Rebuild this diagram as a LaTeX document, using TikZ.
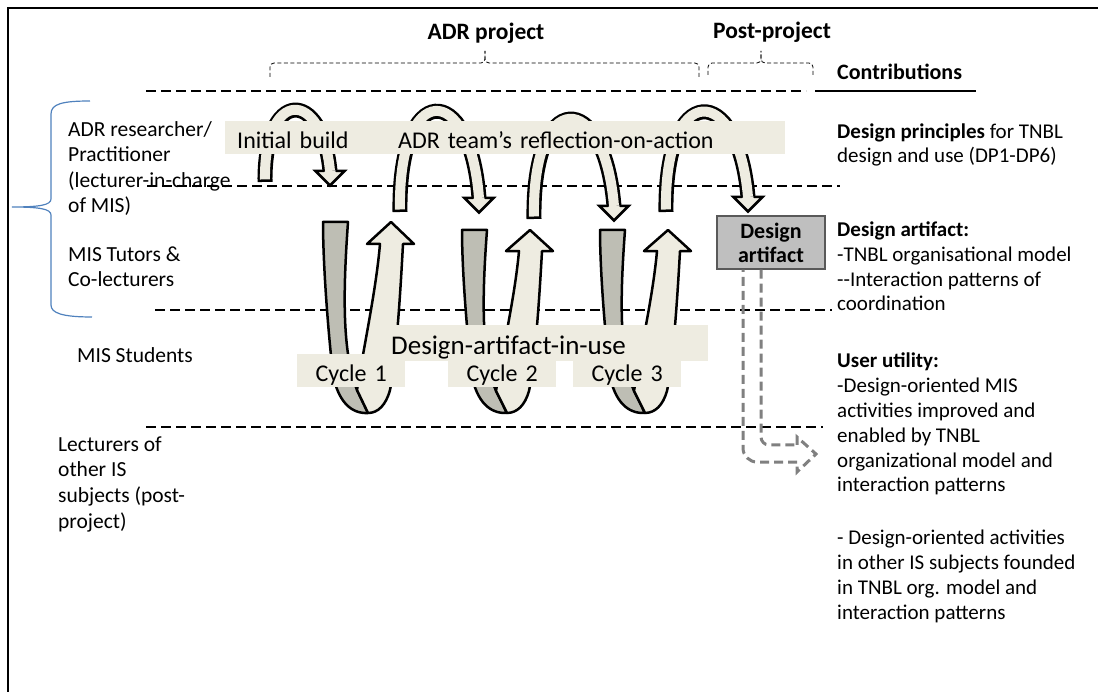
\documentclass[tikz,border=0pt]{standalone}
\usepackage{fontspec}
\setmainfont{Carlito}
\usetikzlibrary{positioning}

\definecolor{bandtan}{HTML}{EEECE1}
\definecolor{ribbongray}{HTML}{BEBEB4}
\definecolor{boxgray}{HTML}{BFBFBF}
\definecolor{boxedge}{HTML}{595959}
\definecolor{bracebl}{HTML}{4F81BD}

\begin{document}
\begin{tikzpicture}[
    x=1pt, y=-1pt,
    lane/.style={dash pattern=on 10pt off 5pt, line width=1.2pt},
    spanbrace/.style={dash pattern=on 4pt off 2.5pt, line width=0.8pt, rounded corners=4pt},
    groupbrace/.style={draw=bracebl, line width=1.2pt},
    rowlabel/.style={anchor=base west, align=left, inner sep=0pt, font=\fontsize{21.5}{25.6}\selectfont},
    contrib/.style={anchor=base west, align=left, inner sep=0pt, font=\fontsize{21}{24.8}\selectfont},
    phase/.style={anchor=base, inner sep=0pt, font=\fontsize{23.5}{28}\selectfont\bfseries},
    band/.style={fill=bandtan, anchor=base west, inner ysep=0pt, text height=28pt, text depth=5pt, align=left, font=\fontsize{24}{29}\selectfont},
    artbox/.style={fill=boxgray, draw=boxedge, line width=1.5pt, align=center, minimum width=108pt, minimum height=53pt, inner sep=0pt, font=\fontsize{22}{24}\selectfont\bfseries},
    archpipe/.style={draw=bandtan, line width=10pt, shorten <=2.5pt, preaction={draw=black, line width=15pt, shorten <=0pt}},
    archhead/.style={fill=bandtan, draw=black, line width=2.5pt, line cap=round},
    frontface/.style={fill=bandtan, draw=black, line width=2.5pt, line join=round},
    backface/.style={fill=ribbongray, draw=black, line width=2.5pt, line join=round},
    reusearrow/.style={draw=gray, line width=3pt, dash pattern=on 9pt off 5pt},
    archtip/.pic={
        \filldraw[archhead] (6.25,0) -- (14.5,0) -- (0,14.5) -- (-14.5,0) -- (-6.25,0);
    },
    ucycle/.pic={
        % back of the ribbon going down
        \filldraw[backface] (0,0) -- (25,0) .. controls (20,70) and (19,130) .. (34,168)
            -- (45,191) .. controls (27,192) and (15,178) .. (10,153)
            .. controls (4,98) and (0,38) .. (0,0) -- cycle;
        % front of the ribbon coming back up
        \filldraw[frontface] (45,191) -- (34,168) .. controls (42,118) and (53,68) .. (57,22)
            -- (44,22) -- (68,0) -- (91,22) -- (80,22)
            .. controls (77,78) and (73,138) .. (67,168)
            .. controls (63,183) and (55,191) .. (45,191) -- cycle;
    }
]
\useasboundingbox (0,0) rectangle (1098,692);

% frame
\draw[line width=2pt] (8,692) -- (8,8) -- (1098,8);

% phases
\node[phase] (adr) at (486,40) {ADR project};
\node[phase] (post) at (772,39) {Post-project};
\draw[spanbrace] (270,77) -- (270,63) -- (485,63) -- (485,51);
\draw[spanbrace] (699,77) -- (699,63) -- (485,63) -- (485,51);
\draw[spanbrace] (708,75) -- (708,63) -- (761,63) -- (761,51);
\draw[spanbrace] (813,75) -- (813,63) -- (761,63) -- (761,51);

% swimlanes
\draw[lane] (146,91) -- (806,91);
\draw[line width=1.2pt] (815,91) -- (976,91);
\draw[lane] (147,186) -- (840,186);
\draw[lane] (155,310) -- (832,310);
\draw[lane] (146,427) -- (823,427);

% ADR team brace
\draw[groupbrace] (90,101) .. controls (62,101) and (51,104) .. (51,114) -- (51,199)
    .. controls (51,205) and (40,207) .. (12,207)
    .. controls (40,207) and (51,209) .. (51,215) -- (51,305)
    .. controls (51,313) and (62,317) .. (92,317);

% build / reflection arches
\draw[archpipe] (265,182) .. controls (264,88) and (322,88) .. (330,171);
\pic at (330,171) {archtip};
\draw[archpipe] (400,212) .. controls (398,80) and (470,80) .. (479,198);
\pic at (479,198) {archtip};
\draw[archpipe] (534,219) .. controls (532,88) and (604,88) .. (614,206);
\pic at (614,206) {archtip};
\draw[archpipe] (666,212) .. controls (664,81) and (738,81) .. (748,197);
\pic at (748,197) {archtip};

% use cycles
\pic at (323,222) {ucycle};
\pic[yscale=0.958] at (462,230) {ucycle};
\pic[yscale=0.958] at (600,230) {ucycle};

% bands
\node[band, text width=141pt, inner xsep=12pt] (initband) at (225,149) {Initial build};
\node[band, right=-0.5pt of initband, text width=379pt, inner xsep=8pt] (reflband) {ADR team’s reflection-on-action};
\node[band, text width=314pt, inner xsep=3pt, text height=30pt, text depth=6pt,
      font=\fontsize{27}{32}\selectfont] (useband) at (388,355) {Design-artifact-in-use};
\node[band, text width=108pt, inner xsep=0pt, align=center] (cycleA) at (297,382) {Cycle 1};
\node[band, text width=108pt, inner xsep=0pt, align=center] (cycleB) at (448,382) {Cycle 2};
\node[band, text width=108pt, inner xsep=0pt, align=center] (cycleC) at (573,382) {Cycle 3};

% roles (placed by the baseline of their last line)
\node[rowlabel] (researcher) at (68,213) {ADR researcher/\\Practitioner\\(lecturer-in-charge\\of MIS)};
\node[rowlabel] (tutors) at (68,287) {MIS Tutors \&\\Co-lecturers};
\node[rowlabel] (students) at (77,363) {MIS Students};
\node[rowlabel] (lecturers) at (58,528) {Lecturers of\\other IS\\subjects (post-\\project)};

% contributions
\node[contrib, font=\fontsize{22}{26}\selectfont\bfseries] (contribs) at (837,80) {Contributions};
\node[contrib] (principles) at (837,163) {\textbf{Design principles} for TNBL\\design and use (DP1-DP6)};
\node[contrib] (artifacttext) at (837,311) {\textbf{Design artifact:}\\-TNBL organisational model\\-{}-Interaction patterns of\\coordination};
\node[contrib] (utility) at (837,619) {\textbf{User utility:}\\-Design-oriented MIS\\activities improved and\\enabled by TNBL\\organizational model and\\interaction patterns\\[28pt]- Design-oriented activities\\in other IS subjects founded\\in TNBL org. model and\\interaction patterns};

% design artifact and its reuse
\node[artbox] (artifact) at (771,242.5) {Design\\artifact};
\draw[reusearrow, rounded corners=8pt] (761,0 |- artifact.south) |- (797,445);
\draw[reusearrow] (797,445) -- (797,437) -- (816,454) -- (797,472) -- (797,462);
\draw[reusearrow, rounded corners=14pt] (797,462) -| (743,0 |- artifact.south);

\end{tikzpicture}
\end{document}
